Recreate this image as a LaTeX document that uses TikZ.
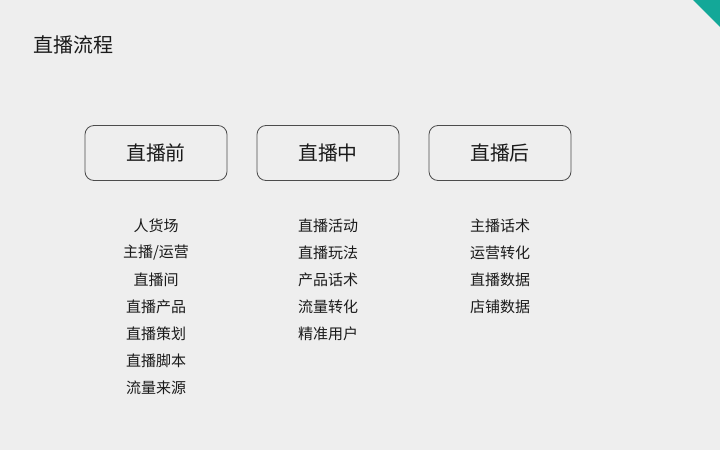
\documentclass[tikz,border=0pt]{standalone}
\usepackage{fontspec}
\setmainfont{Noto Sans CJK SC}
\usetikzlibrary{positioning}
\definecolor{bgcol}{HTML}{EEEEEE}
\definecolor{txtcol}{HTML}{1A1A1A}
\definecolor{tealcol}{HTML}{13A898}
\tikzset{
  stagebox/.style={draw=black!70,line width=0.8pt,rounded corners=9pt,minimum width=142pt,minimum height=55pt,fill=bgcol,text=txtcol,font=\fontsize{19.8}{19.8}\selectfont},
  itemtext/.style={text=txtcol,font=\fontsize{15}{15}\selectfont,inner sep=0pt}
}
\begin{document}
\begin{tikzpicture}[x=1pt,y=-1pt,line cap=round,line join=round]
\useasboundingbox (0,0) rectangle (720,450);
\fill [bgcol] (0,0) rectangle (720,450);
\fill [tealcol] (693,0) -- (720,0) -- (720,27) -- cycle;
\node [anchor=west,text=txtcol,font=\fontsize{20}{20}\selectfont,inner sep=0pt] (title) at (33,45) {直播流程};
\node [stagebox] (before) at (156,153) {直播前};
\node [stagebox] (during) at (328,153) {直播中};
\node [stagebox] (after) at (500,153) {直播后};
\foreach \t [count=\i] in {人货场,主播/运营,直播间,直播产品,直播策划,直播脚本,流量来源}
  \node [itemtext] (before-\i) at (156,199+27*\i) {\t};
\foreach \t [count=\i] in {直播活动,直播玩法,产品话术,流量转化,精准用户}
  \node [itemtext] (during-\i) at (328,199+27*\i) {\t};
\foreach \t [count=\i] in {主播话术,运营转化,直播数据,店铺数据}
  \node [itemtext] (after-\i) at (500,199+27*\i) {\t};
\end{tikzpicture}
\end{document}
